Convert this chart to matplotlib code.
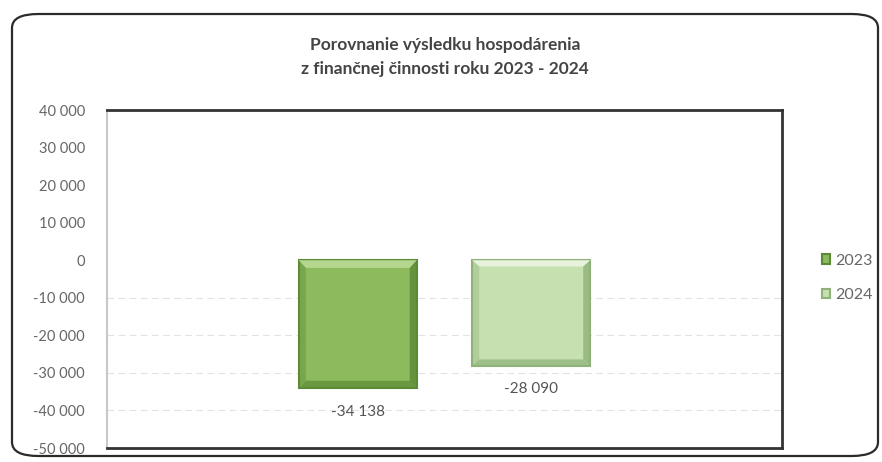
import matplotlib
matplotlib.use("Agg")
import matplotlib.pyplot as plt
from matplotlib.patches import FancyBboxPatch, Polygon

series = ["2023", "2024"]
values = [-34138, -28090]
value_labels = ["-34 138", "-28 090"]
yticks = [40000, 30000, 20000, 10000, 0, -10000, -20000, -30000, -40000, -50000]
title = "Porovnanie výsledku hospodárenia\nz finančnej činnosti roku 2023 - 2024"

fill_colors = ["#8dba5c", "#c6e0b0"]
edge_colors = ["#5c8a36", "#8fb27a"]
light_colors = ["#b5d68f", "#e6f2dc"]

plt.rcParams['font.family'] = ['Lato', 'DejaVu Sans']

W, H = 882, 462
fig = plt.figure(figsize=(W / 100, H / 100), dpi=100)

# rounded outer frame
frame = FancyBboxPatch((12 / W, 6 / H), 866 / W, 442 / H,
                       boxstyle="round,pad=0,rounding_size=0.03",
                       transform=fig.transFigure, fill=False,
                       edgecolor="#2b2b2b", linewidth=1.6)
fig.patches.append(frame)

ax = fig.add_axes([107 / W, 1 - 448 / H, (782 - 107) / W, (448 - 110) / H])
ax.set_xlim(-1, 1)
ax.set_ylim(-50000, 40000)

bar_w = 0.35
offs = [-0.257, 0.257]
for i, (s, v) in enumerate(zip(series, values)):
    ax.bar(offs[i], v, width=bar_w, color=fill_colors[i], edgecolor=edge_colors[i],
           linewidth=1.5, zorder=3, label=s)
    # bevel effect
    x0, x1 = offs[i] - bar_w / 2, offs[i] + bar_w / 2
    dx = bar_w * 0.06
    dy = abs(v) * 0.06
    top, bot = 0, v
    ax.add_patch(Polygon([[x0, top], [x1, top], [x1 - dx, top - dy], [x0 + dx, top - dy]],
                         closed=True, facecolor=light_colors[i], edgecolor="none", zorder=4))
    ax.add_patch(Polygon([[x0, bot], [x1, bot], [x1 - dx, bot + dy], [x0 + dx, bot + dy]],
                         closed=True, facecolor=edge_colors[i], edgecolor="none", zorder=4, alpha=0.7))
    ax.add_patch(Polygon([[x1, top], [x1, bot], [x1 - dx, bot + dy], [x1 - dx, top - dy]],
                         closed=True, facecolor=edge_colors[i], edgecolor="none", zorder=4, alpha=0.8))
    ax.add_patch(Polygon([[x0, top], [x0, bot], [x0 + dx, bot + dy], [x0 + dx, top - dy]],
                         closed=True, facecolor=edge_colors[i], edgecolor="none", zorder=4, alpha=0.4))
    ax.annotate(value_labels[i], (offs[i], v), xytext=(0, -17), textcoords="offset points",
                ha="center", va="center", fontsize=11, color="#555555", zorder=5)

ax.set_yticks(yticks)
ax.set_yticklabels([f"{t:,}".replace(",", " ") for t in yticks], fontsize=10.5, color="#666666")
ax.set_xticks([])
ax.tick_params(axis="y", length=0, pad=16)
for t in yticks:
    if t < 0 and t > -50000:
        ax.axhline(t, color="#e2e2e2", linewidth=0.8, linestyle=(0, (6, 4)), zorder=1)

ax.spines["top"].set_color("#333333")
ax.spines["top"].set_linewidth(2)
ax.spines["bottom"].set_color("#333333")
ax.spines["bottom"].set_linewidth(2)
ax.spines["right"].set_color("#333333")
ax.spines["right"].set_linewidth(2)
ax.spines["left"].set_color("#c8c8c8")
ax.spines["left"].set_linewidth(1.5)

fig.text(445 / W, 1 - 57 / H, title, ha="center", va="center", fontsize=12.5,
         fontweight="bold", color="#444444", linespacing=1.6)

leg = fig.legend(loc="center left", bbox_to_anchor=(808 / W, 1 - 278 / H), frameon=False,
                 fontsize=11.5, handlelength=0.5, handleheight=0.5, handletextpad=0.3,
                 labelspacing=1.3, labelcolor="#666666")

fig.savefig("out.png", dpi=100)
